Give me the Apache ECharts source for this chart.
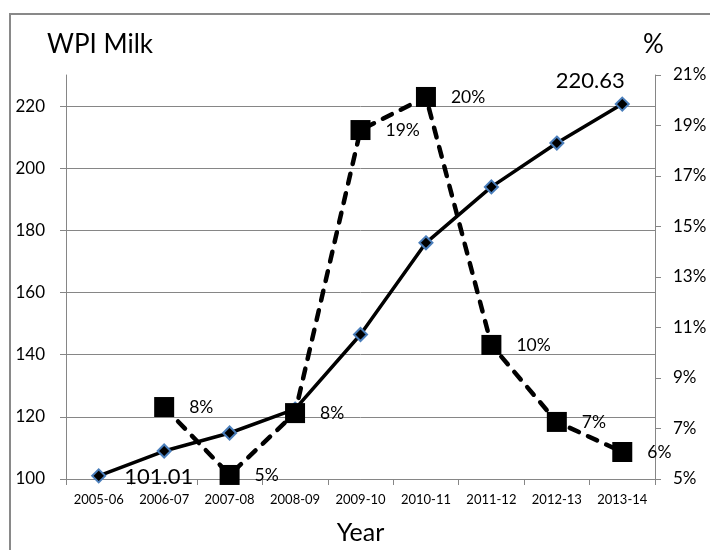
<!DOCTYPE html>
<html>
<head>
<meta charset="utf-8">
<script src="https://cdn.jsdelivr.net/npm/echarts@6/dist/echarts.min.js"></script>
<style>html,body{margin:0;padding:0;background:#fff}#c{width:710px;height:550px}</style>
</head>
<body>
<div id="c"></div>
<script>
var years = ['2005-06','2006-07','2007-08','2008-09','2009-10','2010-11','2011-12','2012-13','2013-14'];
var wpiMilk = [101.01, 109.0, 114.8, 122.5, 146.5, 176.0, 194.0, 208.1, 220.63];
var growthPct = [null, 7.85, 5.16, 7.61, 18.82, 20.13, 10.31, 7.26, 6.07];
var leftTicks = {min: 100, max: 230, interval: 20};
var rightTicks = {min: 5, max: 21, interval: 2};

var FONT = 'Lato';
var GREY = '#868686';
var chart = echarts.init(document.getElementById('c'));

var lastIdx = wpiMilk.length - 1;
var wpiData = wpiMilk.map(function (v, i) {
  var item = {value: v};
  if (i === 0) {
    item.label = {show: true, position: 'right', distance: 18, offset: [0, 1],
      fontSize: 22, fontFamily: FONT, color: '#000', formatter: function (p) { return p.value.toFixed(2); }};
  } else if (i === lastIdx) {
    item.label = {show: true, position: 'top', distance: 5, offset: [-32, 0],
      fontSize: 22, fontFamily: FONT, color: '#000', formatter: function (p) { return p.value.toFixed(2); }};
  }
  return item;
});
var pctData = growthPct.map(function (v) { return v === null ? '-' : v; });

chart.setOption({
  animation: false,
  backgroundColor: '#fff',
  textStyle: {fontFamily: FONT},
  graphic: [{
    type: 'rect', shape: {x: 10, y: 14, width: 800, height: 700},
    style: {fill: 'none', stroke: '#898989', lineWidth: 2}, silent: true, z: -10
  }],
  title: [
    {text: 'WPI Milk', left: 42, top: 27, textStyle: {fontFamily: FONT, fontSize: 26, fontWeight: 'normal', color: '#000'}},
    {text: '%', left: 638, top: 27, textStyle: {fontFamily: FONT, fontSize: 26, fontWeight: 'normal', color: '#000'}}
  ],
  grid: {left: 66, right: 55, top: 75, bottom: 71, containLabel: false},
  xAxis: {
    type: 'category', data: years, boundaryGap: true,
    name: 'Year', nameLocation: 'middle', nameGap: 41,
    nameTextStyle: {fontFamily: FONT, fontSize: 25, color: '#000'},
    axisLine: {show: true, onZero: false, lineStyle: {color: GREY, width: 1}},
    axisTick: {show: true, inside: false, length: 6, alignWithLabel: false, lineStyle: {color: GREY}},
    axisLabel: {interval: 0, margin: 14, fontFamily: FONT, fontSize: 13, color: '#000'},
    splitLine: {show: false}
  },
  yAxis: [{
    type: 'value', min: leftTicks.min, max: leftTicks.max, interval: leftTicks.interval,
    axisLine: {show: true, lineStyle: {color: GREY, width: 1}},
    axisTick: {show: true, inside: false, length: 6, lineStyle: {color: GREY}},
    axisLabel: {margin: 21, fontFamily: FONT, fontSize: 17, color: '#000', showMaxLabel: false},
    splitLine: {show: true, showMaxLine: false, lineStyle: {color: GREY, width: 1}}
  }, {
    type: 'value', position: 'right', min: rightTicks.min, max: rightTicks.max, interval: rightTicks.interval,
    axisLine: {show: true, lineStyle: {color: GREY, width: 1}},
    axisTick: {show: true, inside: false, length: 6, lineStyle: {color: GREY}},
    axisLabel: {margin: 18, fontFamily: FONT, fontSize: 17, color: '#000', formatter: '{value}%'},
    splitLine: {show: false}
  }],
  series: [{
    name: 'WPI Milk', type: 'line', yAxisIndex: 0, data: wpiData,
    symbol: 'diamond', symbolSize: 13, showAllSymbol: true,
    lineStyle: {color: '#000', width: 3.5},
    itemStyle: {color: '#000', borderColor: '#4a7ebb', borderWidth: 2},
    z: 2
  }, {
    name: 'Growth %', type: 'line', yAxisIndex: 1, data: pctData, connectNulls: false,
    symbol: 'rect', symbolSize: 20, showAllSymbol: true,
    lineStyle: {color: '#000', width: 4.5, type: [10, 10], cap: 'round'},
    itemStyle: {color: '#000', borderWidth: 0},
    label: {show: true, position: 'right', distance: 15, fontFamily: FONT, fontSize: 17.5, color: '#000',
      formatter: function (p) { return Math.round(p.value) + '%'; }},
    z: 3
  }]
});
</script>
</body>
</html>
